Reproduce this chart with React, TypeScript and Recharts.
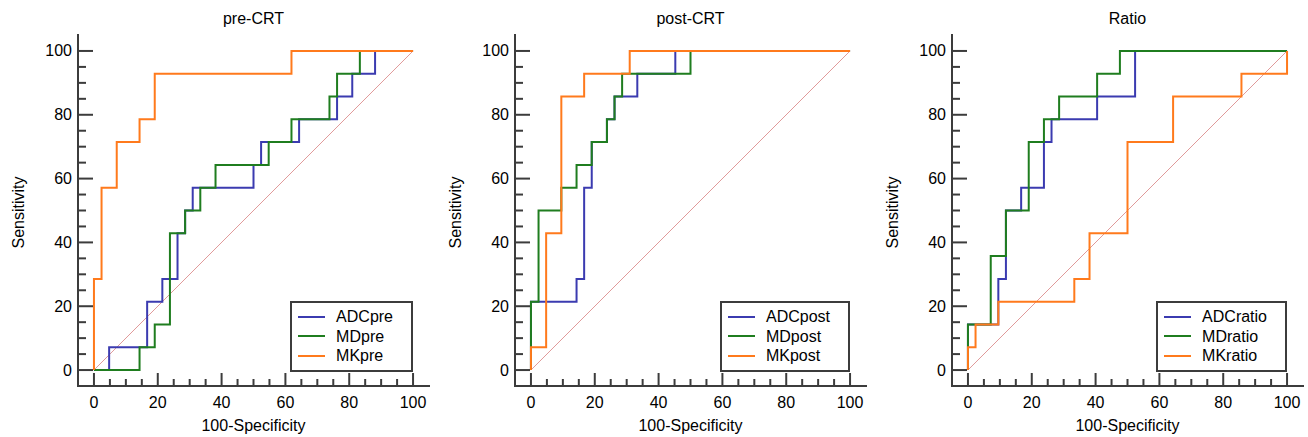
import React from 'react';
import { LineChart, Line, XAxis, YAxis, Legend } from 'recharts';

// ---- tick values ----
const xTicks = [0, 5, 10, 15, 20, 25, 30, 35, 40, 45, 50, 55, 60, 65, 70, 75, 80, 85, 90, 95, 100];
const yTicks = [0, 5, 10, 15, 20, 25, 30, 35, 40, 45, 50, 55, 60, 65, 70, 75, 80, 85, 90, 95, 100];
const majorTicks = [0, 20, 40, 60, 80, 100];
const axisDomain = [-5, 105];

// ---- reference diagonal ----
const diagonal = [[0, 0], [100, 100]];

// ---- ROC points [100-Specificity, Sensitivity] (step after) ----
const ADCpre = [[0, 0], [4.76, 7.14], [16.67, 21.43], [21.43, 28.57], [26.19, 42.86], [28.57, 50], [30.95, 57.14], [50, 64.29], [52.38, 71.43], [64.29, 78.57], [76.19, 85.71], [80.95, 92.86], [88.1, 100], [100, 100]];
const MDpre = [[0, 0], [14.29, 7.14], [19.05, 14.29], [23.81, 42.86], [28.57, 50], [33.33, 57.14], [38.1, 64.29], [54.76, 71.43], [61.9, 78.57], [73.81, 85.71], [76.19, 92.86], [83.33, 100], [100, 100]];
const MKpre = [[0, 0], [0, 28.57], [2.38, 57.14], [7.14, 71.43], [14.29, 78.57], [19.05, 92.86], [61.9, 100], [100, 100]];

const ADCpost = [[0, 0], [0, 21.43], [14.29, 28.57], [16.67, 57.14], [19.05, 71.43], [23.81, 78.57], [26.19, 85.71], [33.33, 92.86], [45.24, 100], [100, 100]];
const MDpost = [[0, 0], [0, 21.43], [2.38, 50], [9.52, 57.14], [14.29, 64.29], [19.05, 71.43], [23.81, 78.57], [26.19, 85.71], [28.57, 92.86], [50, 100], [100, 100]];
const MKpost = [[0, 0], [0, 7.14], [4.76, 42.86], [9.52, 85.71], [16.67, 92.86], [30.95, 100], [100, 100]];

const ADCratio = [[0, 0], [0, 14.29], [9.52, 28.57], [11.9, 50], [16.67, 57.14], [23.81, 71.43], [26.19, 78.57], [40.48, 85.71], [52.38, 100], [100, 100]];
const MDratio = [[0, 0], [0, 14.29], [7.14, 35.71], [11.9, 50], [19.05, 71.43], [23.81, 78.57], [28.57, 85.71], [40.48, 92.86], [47.62, 100], [100, 100]];
const MKratio = [[0, 0], [0, 7.14], [2.38, 14.29], [9.52, 21.43], [33.33, 28.57], [38.1, 42.86], [50, 71.43], [64.29, 85.71], [85.71, 92.86], [100, 100]];

const titles = ['pre-CRT', 'post-CRT', 'Ratio'];
const seriesNames = [
  ['ADCpre', 'MDpre', 'MKpre'],
  ['ADCpost', 'MDpost', 'MKpost'],
  ['ADCratio', 'MDratio', 'MKratio'],
];
const seriesData = [
  [ADCpre, MDpre, MKpre],
  [ADCpost, MDpost, MKpost],
  [ADCratio, MDratio, MKratio],
];

const COLORS = ['#3b3bb0', '#1f7d1f', '#ff7a1c'];
const AXIS = '#3c3c3c';
const DIAG = '#e09a9a';
const FONT = '"Liberation Sans", Arial, sans-serif';

const toRows = (pts: number[][]) => pts.map(([x, y]) => ({ x, y }));

const XTick = (props: any) => {
  const { x, y, payload } = props;
  const v = payload.value;
  const major = majorTicks.includes(v);
  return (
    <g>
      <line x1={x} x2={x} y1={y} y2={y - (major ? 13 : 7)} stroke={AXIS} strokeWidth={2} />
      {major && (
        <text x={x} y={y + 22} textAnchor="middle" fontSize={16} fontFamily={FONT} fill="#000">
          {v}
        </text>
      )}
    </g>
  );
};

const YTick = (props: any) => {
  const { x, y, payload } = props;
  const v = payload.value;
  const major = majorTicks.includes(v);
  return (
    <g>
      <line x1={x} x2={x + (major ? 15 : 8)} y1={y} y2={y} stroke={AXIS} strokeWidth={2} />
      {major && (
        <text x={x - 6} y={y} dy={5.5} textAnchor="end" fontSize={16} fontFamily={FONT} fill="#000">
          {v}
        </text>
      )}
    </g>
  );
};

const YLabel = (props: any) => {
  const vb = props.viewBox || {};
  const cx = vb.x;
  const cy = vb.y + vb.height / 2 + 2;
  return (
    <text
      x={cx}
      y={cy}
      transform={`rotate(-90, ${cx}, ${cy})`}
      textAnchor="middle"
      dominantBaseline="central"
      fontSize={16}
      fontFamily={FONT}
      fill="#000"
    >
      Sensitivity
    </text>
  );
};

const makeLegend = (names: string[]) => () => (
  <div
    style={{
      border: `2px solid ${AXIS}`,
      background: '#fff',
      padding: '4px 18px 4px 6px',
      fontFamily: FONT,
      fontSize: 16,
      lineHeight: '19.5px',
      color: '#000',
      whiteSpace: 'nowrap',
    }}
  >
    {names.map((n, i) => (
      <div key={n} style={{ display: 'flex', alignItems: 'center' }}>
        <span style={{ display: 'inline-block', width: 27, height: 2, background: COLORS[i], marginRight: 11 }} />
        <span>{n}</span>
      </div>
    ))}
  </div>
);

const Panel = ({ idx }: { idx: number }) => {
  const names = seriesNames[idx];
  const data = seriesData[idx];
  return (
    <div style={{ position: 'absolute', left: 437 * idx, top: 0, width: 437, height: 437 }}>
      <div
        style={{
          position: 'absolute',
          left: 78,
          top: 9,
          width: 351,
          textAlign: 'center',
          fontFamily: FONT,
          fontSize: 16,
          lineHeight: '20px',
          color: '#000',
        }}
      >
        {titles[idx]}
      </div>
      <LineChart width={437} height={437} margin={{ top: 35, right: 8, bottom: 0, left: 18 }}>
        <XAxis
          dataKey="x"
          type="number"
          domain={axisDomain}
          ticks={xTicks}
          interval={0}
          allowDataOverflow
          height={51}
          tickSize={0}
          tickMargin={0}
          tickLine={false}
          tick={<XTick />}
          axisLine={{ stroke: AXIS, strokeWidth: 2, strokeLinecap: 'square' }}
          label={{ value: '100-Specificity', position: 'insideBottom', offset: 6, fontSize: 16, fontFamily: FONT, fill: '#000' }}
        />
        <YAxis
          dataKey="y"
          type="number"
          domain={axisDomain}
          ticks={yTicks}
          interval={0}
          allowDataOverflow
          width={60}
          tickSize={0}
          tickMargin={0}
          tickLine={false}
          tick={<YTick />}
          axisLine={{ stroke: AXIS, strokeWidth: 2, strokeLinecap: 'square' }}
          label={<YLabel />}
        />
        <Line
          data={toRows(diagonal)}
          dataKey="y"
          type="linear"
          stroke={DIAG}
          strokeWidth={1}
          dot={false}
          activeDot={false}
          legendType="none"
          isAnimationActive={false}
        />
        {data.map((pts, i) => (
          <Line
            key={names[i]}
            name={names[i]}
            data={toRows(pts)}
            dataKey="y"
            type="stepAfter"
            stroke={COLORS[i]}
            strokeWidth={2}
            dot={false}
            activeDot={false}
            isAnimationActive={false}
          />
        ))}
        <Legend
          layout="vertical"
          align="center"
          verticalAlign="middle"
          content={makeLegend(names)}
          wrapperStyle={{ left: 'auto', right: 24, top: 301, bottom: 'auto', width: 'auto', height: 'auto' }}
        />
      </LineChart>
    </div>
  );
}

export default function App() {
  return (
    <div style={{ position: 'absolute', left: 0, top: 0, width: 1308, height: 437, background: '#fff' }}>
      {[0, 1, 2].map((i) => (
        <Panel key={i} idx={i} />
      ))}
    </div>
  );
}
